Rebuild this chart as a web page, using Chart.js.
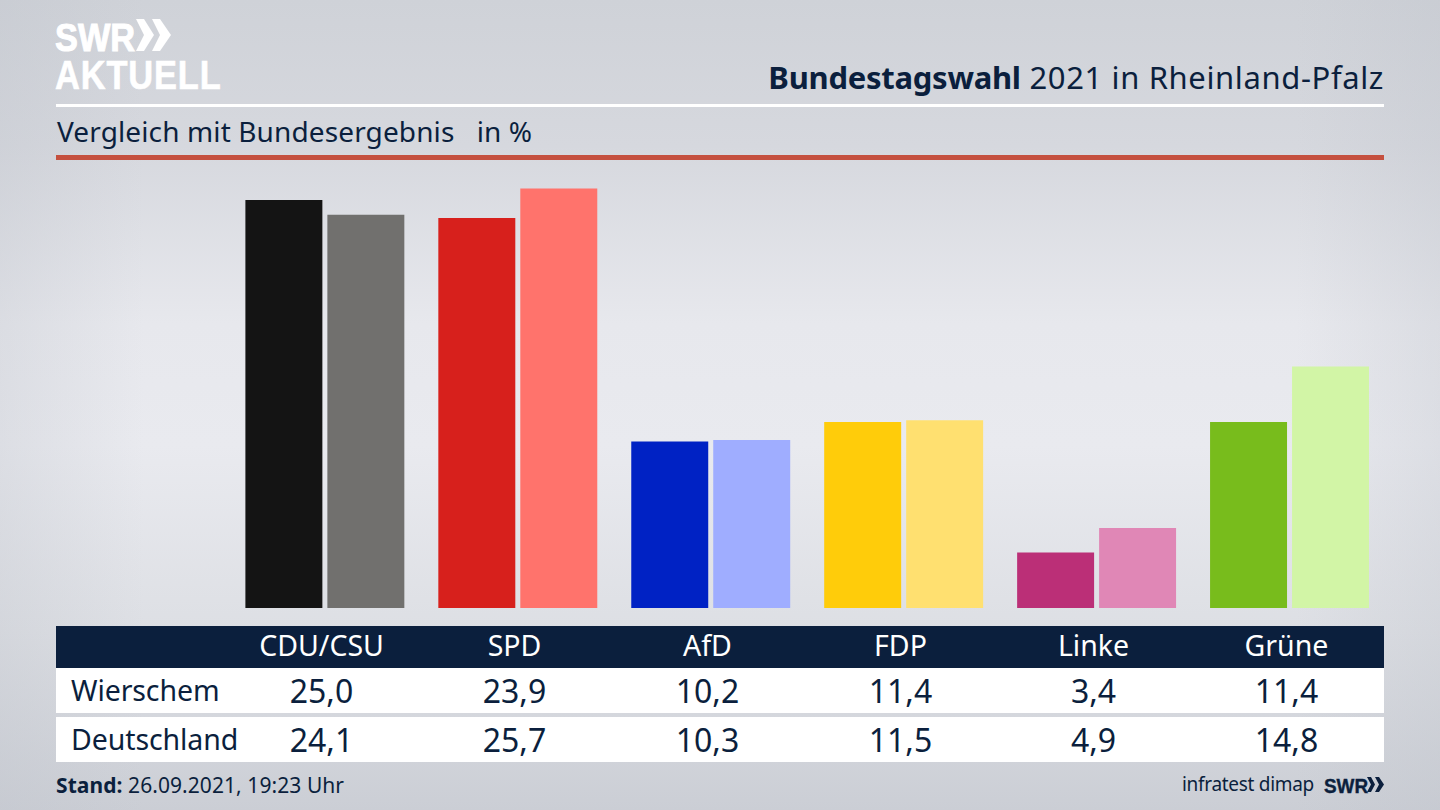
<!DOCTYPE html>
<html lang="de"><head><meta charset="utf-8">
<script src="https://cdn.jsdelivr.net/npm/chart.js@4"></script>
<style>
html,body{margin:0;padding:0;width:1440px;height:810px;overflow:hidden}
body{position:relative;font-family:"Noto Sans",sans-serif;color:#0b1f3d;
background:linear-gradient(90deg,rgba(190,194,202,.3),rgba(255,255,255,0) 10%,rgba(255,255,255,0) 90%,rgba(190,194,202,.3)),linear-gradient(180deg,#cfd2d8 0%,#d6d8de 18%,#e7e8ed 40%,#e9eaef 55%,#dddfe4 78%,#cbced5 100%)}
.a{position:absolute;white-space:nowrap;line-height:1}
.r{position:absolute;left:56px;width:1328px}
.c{position:absolute;width:193px;text-align:center;transform:translateX(-50%);line-height:1}
canvas{position:absolute;left:228px;top:159px}
</style></head><body>
<div class="a" style="left:55px;top:16px;font:800 39px 'Liberation Sans';color:#fff;-webkit-text-stroke:1px #fff;transform:scaleX(.88);transform-origin:left">SWR</div>
<svg class="a" style="left:136px;top:19px" width="35" height="32"><path d="M0 0h8l10 16-10 16H0l8-16zM16 0h8l11 16-11 16h-8l8-16z" fill="#fff"/></svg>
<div class="a" style="left:55px;top:53px;font:700 40px 'Liberation Sans';color:#fff;-webkit-text-stroke:.6px #fff;transform:scaleX(.86);transform-origin:left;letter-spacing:1px">AKTUELL</div>
<div class="a" style="right:56px;top:62px;font-size:31px;letter-spacing:.62px"><b style="letter-spacing:-.27px">Bundestagswahl</b> 2021 in Rheinland-Pfalz</div>
<div class="r" style="top:104px;height:3px;background:#fff"></div>
<div class="a" style="left:57px;top:117px;font-size:28px;letter-spacing:.12px;white-space:pre">Vergleich mit Bundesergebnis   in %</div>
<div class="r" style="top:155px;height:5px;background:#c5503f"></div>
<canvas id="chart" width="1158" height="449" style="width:1158px;height:449px"></canvas>
<div class="r" id="h" style="top:626px;height:42px;background:#0b1f3d;color:#fff"></div>
<div class="r" id="w" style="top:668px;height:45px;background:#fff"></div>
<div class="r" id="d" style="top:717px;height:45px;background:#fff"></div>
<div class="a" style="left:56px;top:775px;font-size:21px;letter-spacing:.07px"><b>Stand:</b> 26.09.2021, 19:23 Uhr</div>
<div class="a" style="left:1182px;top:775px;font-size:19px;letter-spacing:-.3px">infratest dimap</div>
<div class="a" style="left:1324px;top:774px;font:800 21px 'Liberation Sans';-webkit-text-stroke:.4px #0b1f3d;transform:scaleX(.9);transform-origin:left">SWR</div>
<svg class="a" style="left:1367px;top:777px" width="17" height="15"><path d="M0 0h4l4 7.5-4 7.5H0l4-7.5zM8 0h4l5 7.5-5 7.5H8l4-7.5z" fill="#0b1f3d"/></svg>
<script>
const categories=["CDU/CSU","SPD","AfD","FDP","Linke","Grüne"];
const wierschem=[25.0,23.9,10.2,11.4,3.4,11.4];
const deutschland=[24.1,25.7,10.3,11.5,4.9,14.8];
const wierschemColors=["#141414","#d7201c","#0022c4","#ffcc0a","#bb2f77","#78bc1c"];
const deutschlandColors=["#71706e","#ff736c","#9fadff","#ffe070","#e087b6","#d2f5a6"];
const rowNames=["Wierschem","Deutschland"];
const fmt=v=>v.toFixed(1).replace(".",",");
const centers=i=>228+193*(i+.5)-3;
function cell(p,txt,x,top,size){const e=document.createElement("div");e.className="c";e.textContent=txt;
 e.style.left=(x-56)+"px";e.style.top=top+"px";e.style.fontSize=size+"px";p.appendChild(e);}
function name(p,txt){const e=document.createElement("div");e.className="a";e.textContent=txt;
 e.style.left="15px";e.style.top="8px";e.style.fontSize="28.5px";e.style.letterSpacing="-.1px";p.appendChild(e);}
categories.forEach((c,i)=>{
 cell(document.getElementById("h"),c,centers(i),5,28.5);
 cell(document.getElementById("w"),fmt(wierschem[i]),centers(i),7,32);
 cell(document.getElementById("d"),fmt(deutschland[i]),centers(i),7,32);
});
name(document.getElementById("w"),rowNames[0]);
name(document.getElementById("d"),rowNames[1]);
new Chart(document.getElementById("chart"),{type:"bar",
 data:{labels:categories,datasets:[
  {label:rowNames[0],data:wierschem,backgroundColor:wierschemColors},
  {label:rowNames[1],data:deutschland,backgroundColor:deutschlandColors}]},
 options:{responsive:false,animation:false,devicePixelRatio:1,
  layout:{padding:{left:0.4}},
  datasets:{bar:{categoryPercentage:164/193,barPercentage:77/82}},
  plugins:{legend:{display:false},tooltip:{enabled:false}},
  scales:{x:{display:false},y:{display:false,min:0,max:449/16.32}}}});
</script>
</body></html>
